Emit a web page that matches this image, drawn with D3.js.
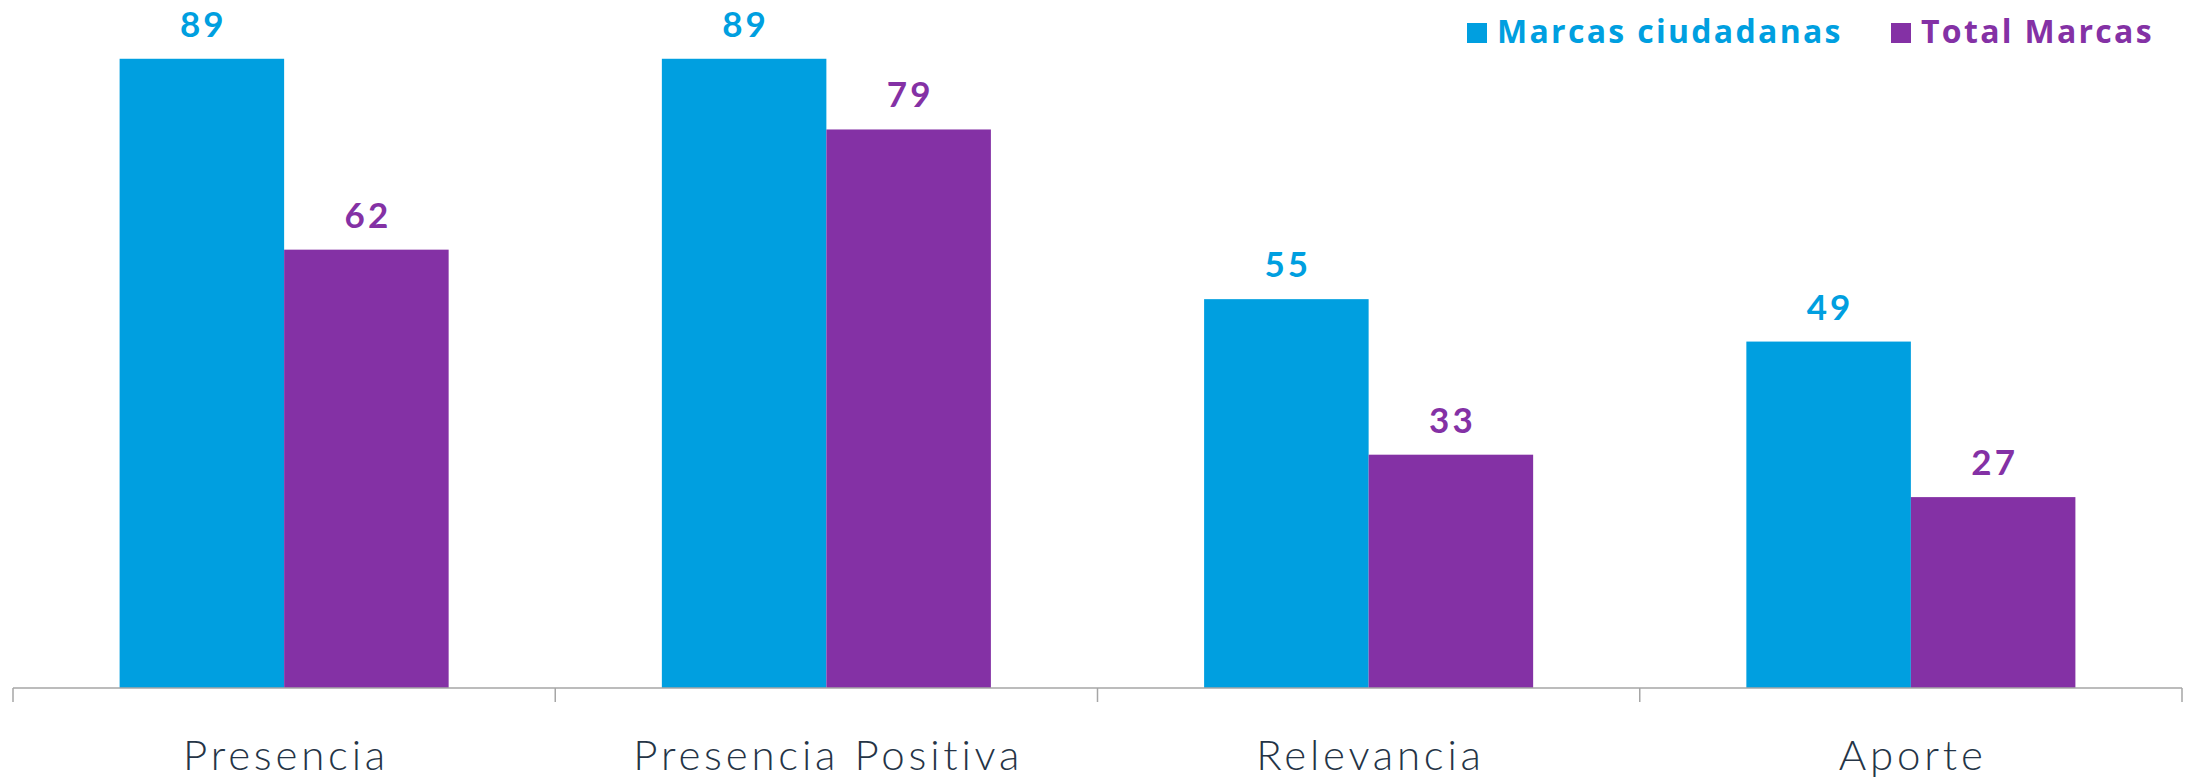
<!DOCTYPE html>
<html><head><meta charset="utf-8">
<script src="https://cdn.jsdelivr.net/npm/d3@7"></script>
<style>
html,body{margin:0;padding:0;background:#fff;}
svg{display:block;font-family:Lato,"Open Sans",sans-serif;}
</style></head>
<body>
<svg id="chart" width="2193" height="780"></svg>
<script>
const categories = ["Presencia", "Presencia Positiva", "Relevancia", "Aporte"];
const seriesNames = ["Marcas ciudadanas", "Total Marcas"];
const marcasCiudadanas = [89, 89, 55, 49];
const totalMarcas = [62, 79, 33, 27];
const seriesColors = ["#009fe0", "#8431a5"];

const svg = d3.select("#chart");
const left = 13, right = 2182, baseY = 688;

const x0 = d3.scaleBand().domain(categories).range([left, right]).paddingInner(0).paddingOuter(0);
const x1 = d3.scaleBand().domain(seriesNames).range([0, x0.bandwidth()]).paddingInner(0).paddingOuter(0.648);
const y = d3.scaleLinear().domain([0, 100]).range([baseY, baseY - 707]);

const data = categories.map((c, i) => ({cat: c, vals: [
  {s: seriesNames[0], v: marcasCiudadanas[i], color: seriesColors[0]},
  {s: seriesNames[1], v: totalMarcas[i], color: seriesColors[1]}
]}));

const groups = svg.selectAll("g.grp").data(data).join("g")
  .attr("class", "grp")
  .attr("transform", d => `translate(${x0(d.cat)},0)`);

groups.selectAll("rect").data(d => d.vals).join("rect")
  .attr("x", d => x1(d.s))
  .attr("y", d => y(d.v))
  .attr("width", x1.bandwidth())
  .attr("height", d => baseY - y(d.v))
  .attr("fill", d => d.color);

groups.selectAll("text.val").data(d => d.vals).join("text")
  .attr("class", "val")
  .attr("x", d => x1(d.s) + x1.bandwidth() / 2 + 1.5)
  .attr("y", d => y(d.v) - 22)
  .attr("text-anchor", "middle")
  .attr("font-size", 35)
  .attr("font-weight", 700)
  .attr("letter-spacing", 3)
  .attr("fill", d => d.color)
  .text(d => d.v);

// axis
const axisG = svg.append("g").attr("transform", `translate(0,${baseY})`)
  .call(d3.axisBottom(x0).tickSize(0).tickPadding(0).tickFormat(""));
axisG.select(".domain").attr("stroke", "#a6a6a6").attr("stroke-width", 1.5).attr("d", `M${left},0H${right}`);

const boundaries = categories.map(c => x0(c)).concat([x0(categories[categories.length - 1]) + x0.bandwidth()]);
svg.append("g").selectAll("line").data(boundaries).join("line")
  .attr("x1", d => d).attr("x2", d => d)
  .attr("y1", baseY).attr("y2", baseY + 14)
  .attr("stroke", "#a6a6a6").attr("stroke-width", 1.5);

svg.append("g").selectAll("text").data(categories).join("text")
  .attr("x", d => x0(d) + x0.bandwidth() / 2 + 1.9)
  .attr("y", 770)
  .attr("text-anchor", "middle")
  .attr("font-size", 42)
  .attr("font-weight", 300)
  .attr("letter-spacing", 3.8)
  .attr("fill", "#253446")
  .text(d => d);

// legend
const legendX = [1467, 1891];
const leg = svg.append("g").selectAll("g").data(seriesNames).join("g")
  .attr("transform", (d, i) => `translate(${legendX[i]},0)`);
leg.append("rect").attr("x", 0).attr("y", 23).attr("width", 20).attr("height", 20)
  .attr("fill", (d, i) => seriesColors[i]);
leg.append("text").attr("x", 30).attr("y", 43)
  .attr("font-family", "'Open Sans', sans-serif")
  .attr("font-size", 32).attr("font-weight", 700)
  .attr("letter-spacing", 2.3)
  .attr("fill", (d, i) => seriesColors[i])
  .text(d => d);
</script>
</body></html>
